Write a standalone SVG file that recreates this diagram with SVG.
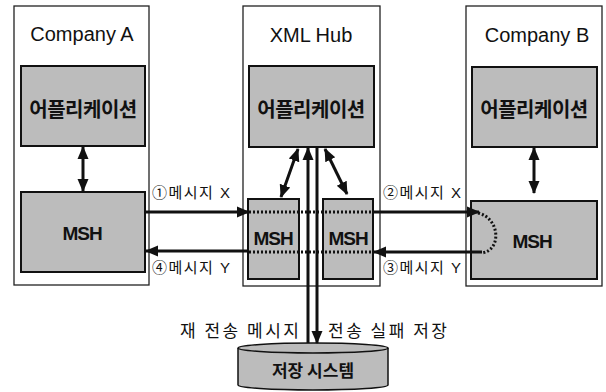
<svg xmlns="http://www.w3.org/2000/svg" width="606" height="392" viewBox="0 0 606 392">
<style>
.outer{fill:#fff;stroke:#222;stroke-width:1.3}
.box{fill:#bcbcbc;stroke:#111;stroke-width:2}
.title{font-family:"Liberation Sans","Noto Sans CJK KR",sans-serif;font-size:20px;fill:#111;text-anchor:middle}
.app{font-family:"Noto Sans CJK KR",sans-serif;font-size:20px;font-weight:bold;fill:#111;text-anchor:middle;letter-spacing:-0.5px}
.msh{font-family:"Liberation Sans",sans-serif;font-size:19px;font-weight:bold;fill:#111;text-anchor:middle;letter-spacing:-1px}
.lbl{font-family:"Liberation Sans","Noto Sans CJK KR",sans-serif;font-size:15px;fill:#111;letter-spacing:1.5px}
.lbl2{font-family:"Noto Sans CJK KR",sans-serif;font-size:17px;fill:#111;letter-spacing:2.5px}
.arr{stroke:#111;stroke-width:3;fill:none}
.dot{stroke:#111;stroke-width:3;fill:none;stroke-dasharray:2 2}
</style>
<defs>
<marker id="ah" markerUnits="userSpaceOnUse" markerWidth="14" markerHeight="14" viewBox="0 0 14 14" refX="12" refY="7" orient="auto-start-reverse">
<path d="M0,1.5 L13,7 L0,12.5 Z" fill="#111"/>
</marker>
</defs>
<g id="companyA">
<rect class="outer" x="14" y="6" width="135" height="279"/>
<text class="title" x="82" y="41">Company A</text>
</g>
<g id="hub">
<rect class="outer" x="243" y="6" width="137" height="280"/>
<text class="title" x="311" y="42">XML Hub</text>
</g>
<g id="companyB">
<rect class="outer" x="466" y="6" width="136" height="280"/>
<text class="title" x="537" y="42">Company B</text>
</g>
<g id="appA">
<rect class="box" x="21" y="66" width="124" height="80"/>
<text class="app" x="83" y="117">어플리케이션</text>
</g>
<g id="appHub">
<rect class="box" x="249" y="66" width="125" height="81"/>
<text class="app" x="311" y="117">어플리케이션</text>
</g>
<g id="appB">
<rect class="box" x="472" y="67" width="125" height="80"/>
<text class="app" x="534" y="117">어플리케이션</text>
</g>
<g id="mshA">
<rect class="box" x="21" y="192" width="124" height="80"/>
<text class="msh" x="82" y="240">MSH</text>
</g>
<g id="mshHub1">
<rect class="box" x="248" y="199" width="51" height="80"/>
<text class="msh" x="273" y="245">MSH</text>
</g>
<g id="mshHub2">
<rect class="box" x="323" y="199" width="50" height="80"/>
<text class="msh" x="348" y="245">MSH</text>
</g>
<g id="mshB">
<rect class="box" x="471" y="201" width="126" height="78"/>
<text class="msh" x="532" y="248">MSH</text>
</g>
<g id="storage">
<path d="M238,348 A75,5 0 0 1 388,348 V385 A75,5 0 0 1 238,385 Z" fill="#bcbcbc" stroke="#111" stroke-width="1.5"/>
<path d="M238,348 A75,5 0 0 0 388,348" fill="none" stroke="#111" stroke-width="1.5"/>
<text class="app" x="313" y="377" style="font-size:17px;letter-spacing:0">저장 시스템</text>
</g>
<g id="connectors">
<line class="arr" x1="83" y1="147" x2="83" y2="191" marker-start="url(#ah)" marker-end="url(#ah)"/>
<line class="arr" x1="534" y1="148" x2="534" y2="193" marker-start="url(#ah)" marker-end="url(#ah)"/>
<line class="arr" x1="298" y1="149" x2="281" y2="197" marker-start="url(#ah)" marker-end="url(#ah)"/>
<line class="arr" x1="325" y1="149" x2="347" y2="194" marker-start="url(#ah)" marker-end="url(#ah)"/>
<line class="arr" x1="308" y1="343" x2="308" y2="148" marker-end="url(#ah)"/>
<line class="arr" x1="317" y1="148" x2="317" y2="343" marker-end="url(#ah)"/>
<line class="arr" x1="145" y1="212" x2="249" y2="212" marker-end="url(#ah)"/>
<line class="arr" x1="248" y1="251" x2="146" y2="251" marker-end="url(#ah)"/>
<line class="arr" x1="373" y1="212" x2="479" y2="212" marker-end="url(#ah)"/>
<line class="arr" x1="482" y1="252" x2="374" y2="252" marker-end="url(#ah)"/>
<line class="dot" x1="249" y1="212" x2="373" y2="212"/>
<line class="dot" x1="249" y1="252" x2="373" y2="252"/>
<path class="dot" d="M478,213 C500,218 502,250 482,253"/>
<text class="lbl" x="152" y="198">①메시지 X</text>
<text class="lbl" x="152" y="273">④메시지 Y</text>
<text class="lbl" x="383" y="198">②메시지 X</text>
<text class="lbl" x="383" y="273">③메시지 Y</text>
<text class="lbl2" x="180" y="337">재 전송 메시지</text>
<text class="lbl2" x="328" y="337">전송 실패 저장</text>
</g>
</svg>
